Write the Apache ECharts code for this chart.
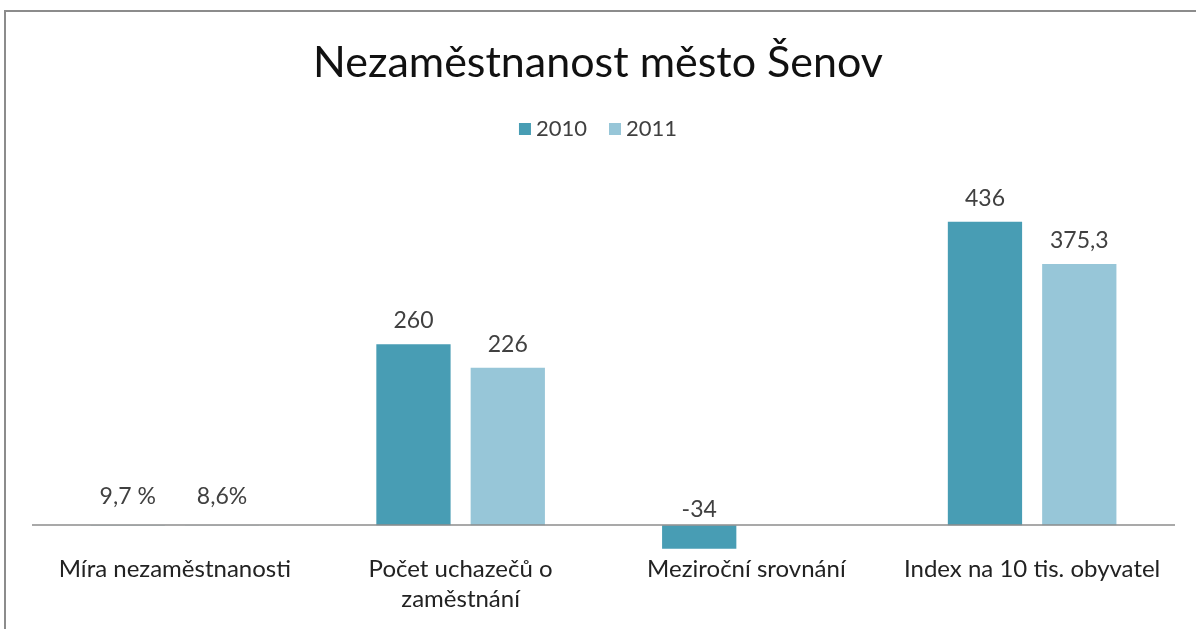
<!DOCTYPE html>
<html lang="cs" style="height: 100%">
<head>
    <meta charset="UTF-8">
    <title>Nezaměstnanost město Šenov</title>
    <script src="https://cdn.jsdelivr.net/npm/echarts@6/dist/echarts.min.js"></script>
</head>
<body style="height: 100%; margin: 0; background: #fff; overflow: hidden; position: relative">
<div id="container" style="width: 1196px; height: 629px"></div>
<div style="position: absolute; left: 4px; top: 10px; width: 1300px; height: 800px; border: 2px solid #8c8c8c; pointer-events: none"></div>
<script type="text/javascript">
    var categories = ['Míra nezaměstnanosti', 'Počet uchazečů o zaměstnání', 'Meziroční srovnání', 'Index na 10 tis. obyvatel'];
    var years = ['2010', '2011'];
    // míra nezaměstnanosti je podíl (0,097), proto je sloupec skoro neviditelný
    var values2010 = [0.097, 260, -34, 436];
    var values2011 = [0.086, 226, null, 375.3];
    var labels2010 = ['9,7 %', '260', '-34', '436'];
    var labels2011 = ['8,6%', '226', '', '375,3'];

    var font = 'Lato, "Open Sans", sans-serif';
    var myChart = echarts.init(document.getElementById('container'));

    // vzdálenost popisku od sloupce podle kategorie
    var labelDistance = [17, 12, 4, 12];

    function makeSeries(name, values, labels, color) {
        return {
            name: name,
            type: 'bar',
            data: values.map(function (v, i) {
                return { value: v, label: { distance: labelDistance[i] } };
            }),
            itemStyle: { color: color },
            barGap: '27%',
            barCategoryGap: '41%',
            label: {
                show: true,
                position: 'top',
                color: '#404040',
                fontFamily: font,
                fontSize: 23,
                formatter: function (p) { return labels[p.dataIndex]; }
            }
        };
    }

    var series = [
        makeSeries(years[0], values2010, labels2010, '#489db4'),
        makeSeries(years[1], values2011, labels2011, '#97c6d8')
    ];
    // nulová osa jen přes šířku grafu
    series[1].markLine = {
        silent: true,
        symbol: 'none',
        label: { show: false },
        lineStyle: { type: 'solid', color: '#8c8c8c', width: 1.5 },
        data: [{ yAxis: 0 }]
    };

    var option = {
        animation: false,
        backgroundColor: '#fff',
        title: {
            text: 'Nezaměstnanost město Šenov',
            left: 'center',
            top: 37,
            textStyle: { fontFamily: font, fontSize: 43, fontWeight: 'normal', color: '#111' }
        },
        legend: {
            data: years,
            top: 113,
            left: 'center',
            itemWidth: 12,
            itemHeight: 12,
            itemGap: 22,
            icon: 'rect',
            textStyle: { fontFamily: font, fontSize: 22, color: '#404040' }
        },
        grid: { left: 32, right: 21, top: 191, bottom: 76 },
        xAxis: {
            type: 'category',
            data: categories,
            axisLine: { show: false },
            axisTick: { show: false },
            axisLabel: {
                interval: 0,
                margin: 1,
                color: '#222',
                fontFamily: font,
                fontSize: 24,
                lineHeight: 30,
                formatter: function (v) { return v.replace('uchazečů o ', 'uchazečů o\n'); }
            }
        },
        yAxis: {
            type: 'value',
            min: -40,
            max: 480,
            axisLine: { show: false },
            axisTick: { show: false },
            axisLabel: { show: false },
            splitLine: { show: false }
        },
        series: series
    };

    myChart.setOption(option);
</script>
</body>
</html>
